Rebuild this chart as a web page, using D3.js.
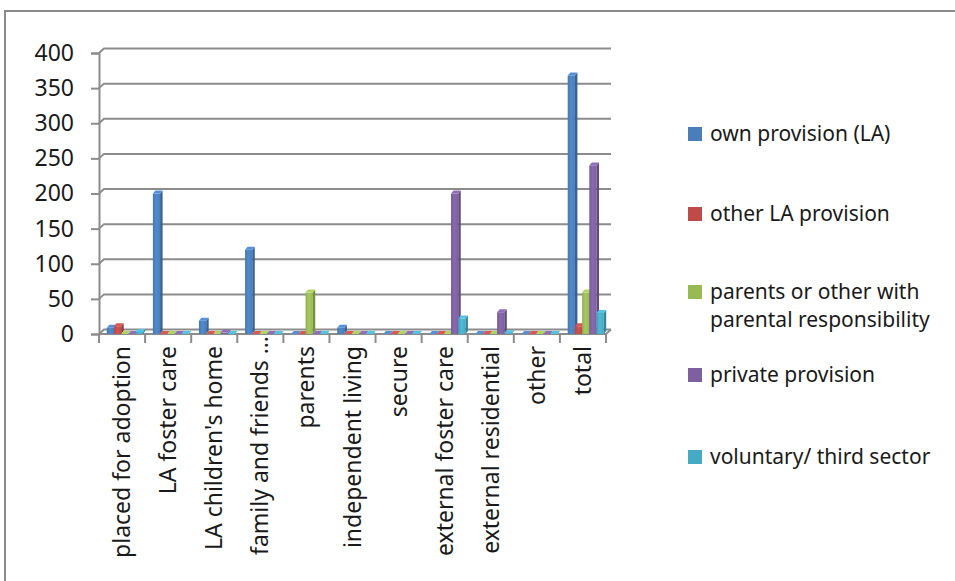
<!DOCTYPE html>
<html>
<head>
<meta charset="utf-8">
<script src="https://cdnjs.cloudflare.com/ajax/libs/d3/7.8.5/d3.min.js"></script>
<style>
  body { margin: 0; background: #fff; }
  svg text { font-family: "Noto Sans", "Open Sans", sans-serif; fill: #1a1a1a; }
</style>
</head>
<body>
<div id="content"></div>
<script>
var width = 955;
var height = 581;

// chart data
var categories = ["placed for adoption", "LA foster care", "LA children's home", "family and friends …",
  "parents", "independent living", "secure", "external foster care", "external residential", "other", "total"];
var seriesNames = ["own provision (LA)", "other LA provision", "parents or other with parental responsibility",
  "private provision", "voluntary/ third sector"];
var legendLines = [["own provision (LA)"], ["other LA provision"], ["parents or other with", "parental responsibility"],
  ["private provision"], ["voluntary/ third sector"]];
var ownProvision = [9, 200, 19, 120, 0, 9, 0, 0, 0, 0, 368];
var otherLA = [11, 0, 0, 0, 0, 0, 0, 0, 0, 0, 11];
var parentsResp = [0, 0, 0, 0, 59, 0, 0, 0, 0, 0, 59];
var privateProv = [0, 0, 2, 0, 0, 0, 0, 200, 31, 0, 240];
var voluntary = [3, 0, 0, 0, 0, 0, 0, 22, 1, 0, 30];
var yTicks = [0, 50, 100, 150, 200, 250, 300, 350, 400];

var seriesValues = [ownProvision, otherLA, parentsResp, privateProv, voluntary];
var colors = ["#4a7ebb", "#be4b48", "#98b954", "#7d60a0", "#46aac5"];

var svg = d3.select("#content").append("svg").attr("width", width).attr("height", height);

// outer chart border (right and bottom run off the picture)
svg.append("rect")
  .attr("x", 5).attr("y", 11)
  .attr("width", 1000).attr("height", 620)
  .attr("fill", "none").attr("stroke", "#8a8a8a").attr("stroke-width", 2);

var y = d3.scaleLinear().domain([0, 400]).range([334, 53]);
var x0 = d3.scaleBand().domain(categories).range([99, 606]);
var x1 = d3.scaleBand().domain(d3.range(seriesNames.length)).range([7.8, 43.8]);

var wallDx = 5, wallDy = 4.5;   // offset of back wall
var barDx = 2.5, barDy = 3;     // bar depth

var defs = svg.append("defs");
colors.forEach(function (c, i) {
  var grad = defs.append("linearGradient").attr("id", "g" + i)
    .attr("x1", "0").attr("x2", "1").attr("y1", "0").attr("y2", "0");
  grad.append("stop").attr("offset", "0%").attr("stop-color", d3.color(c).darker(0.15));
  grad.append("stop").attr("offset", "45%").attr("stop-color", d3.color(c).brighter(0.25));
  grad.append("stop").attr("offset", "100%").attr("stop-color", c);
});

// gridlines on back wall
var grid = svg.append("g");
grid.selectAll("path")
  .data(yTicks)
  .enter()
  .append("path")
  .attr("d", function (t) {
    var yy = y(t);
    return "M99," + yy + " L" + (99 + wallDx) + "," + (yy - wallDy) + " L" + (606 + wallDx) + "," + (yy - wallDy);
  })
  .attr("fill", "none")
  .attr("stroke", "#8c8c8c")
  .attr("stroke-width", 2);

// floor front edge
svg.append("path")
  .attr("d", "M99," + y(0) + " L606," + y(0) + " L" + (606 + wallDx) + "," + (y(0) - wallDy))
  .attr("fill", "none").attr("stroke", "#8c8c8c").attr("stroke-width", 2);

// y axis
var yAxis = d3.axisLeft(y).tickValues(yTicks).tickSize(8).tickPadding(17);
var yg = svg.append("g").attr("transform", "translate(99,0)").call(yAxis);
yg.select(".domain").attr("stroke", "#8c8c8c").attr("stroke-width", 2);
yg.selectAll(".tick line").attr("stroke", "#8c8c8c").attr("stroke-width", 2);
yg.selectAll(".tick text").attr("font-size", 23).attr("font-family", "Noto Sans").attr("fill", "#1a1a1a");

// x ticks at category boundaries
var bounds = categories.map(function (c) { return x0(c); }).concat([606]);
svg.selectAll(".xtick")
  .data(bounds)
  .enter()
  .append("line")
  .attr("x1", function (d) { return d; })
  .attr("x2", function (d) { return d; })
  .attr("y1", y(0))
  .attr("y2", y(0) + 9)
  .attr("stroke", "#8c8c8c")
  .attr("stroke-width", 2);

// bars
var barData = [];
categories.forEach(function (c, ci) {
  seriesValues.forEach(function (vals, si) {
    barData.push({ cat: c, s: si, v: vals[ci] });
  });
});

var bars = svg.append("g").selectAll("g")
  .data(barData)
  .enter()
  .append("g");

var w = x1.bandwidth();
bars.append("rect")
  .attr("x", function (d) { return x0(d.cat) + x1(d.s); })
  .attr("y", function (d) { return y(d.v); })
  .attr("width", w)
  .attr("height", function (d) { return y(0) - y(d.v); })
  .attr("fill", function (d) { return "url(#g" + d.s + ")"; });

bars.append("path")
  .attr("d", function (d) {
    var bx = x0(d.cat) + x1(d.s) + w, top = y(d.v), bot = y(0);
    return "M" + bx + "," + top + " L" + (bx + barDx) + "," + (top - barDy) + " L" + (bx + barDx) + "," + (bot - barDy) + " L" + bx + "," + bot + "Z";
  })
  .attr("fill", function (d) { return d3.color(colors[d.s]).darker(0.7); });

bars.append("path")
  .attr("d", function (d) {
    var bx = x0(d.cat) + x1(d.s), top = y(d.v);
    return "M" + bx + "," + top + " L" + (bx + barDx) + "," + (top - barDy) + " L" + (bx + w + barDx) + "," + (top - barDy) + " L" + (bx + w) + "," + top + "Z";
  })
  .attr("fill", function (d) { return d3.color(colors[d.s]).brighter(0.4); });

// category labels
svg.selectAll(".cat")
  .data(categories)
  .enter()
  .append("text")
  .attr("class", "cat")
  .attr("transform", function (d) {
    var cx = x0(d) + x0.bandwidth() / 2 + 8;
    var cy = d.endsWith("…") ? 336 : 346;
    return "translate(" + cx + "," + cy + ") rotate(-90)";
  })
  .attr("text-anchor", "end")
  .attr("font-size", 23)
  .text(function (d) { return d; });

// legend
var legend = svg.append("g").attr("class", "legend");
var legendY = [134, 214, 292, 375, 457];
var legendItem = legend.selectAll(".legend-item")
  .data(legendLines)
  .enter()
  .append("g")
  .attr("class", "legend-item")
  .attr("transform", function (d, i) { return "translate(688," + legendY[i] + ")"; });

legendItem.append("rect")
  .attr("x", 0).attr("y", -7)
  .attr("width", 14).attr("height", 14)
  .attr("fill", function (d, i) { return colors[i]; });

legendItem.selectAll("text")
  .data(function (d) { return d; })
  .enter()
  .append("text")
  .attr("x", 22)
  .attr("y", function (d, i) { return 7 + i * 28; })
  .attr("font-size", 21)
  .text(function (d) { return d; });
</script>
</body>
</html>
